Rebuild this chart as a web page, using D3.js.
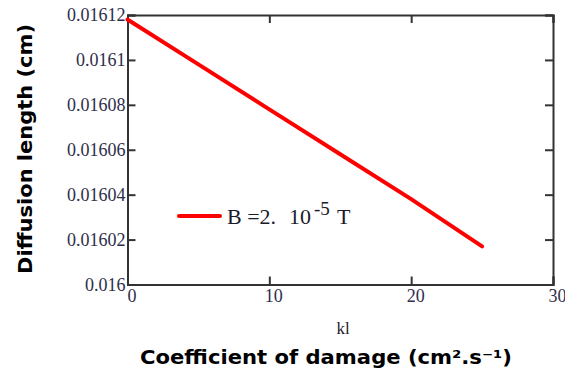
<!DOCTYPE html>
<html>
<head>
<meta charset="utf-8">
<script src="https://cdn.jsdelivr.net/npm/d3@7"></script>
<style>
  html, body { margin: 0; padding: 0; background: #fff; }
  svg { display: block; }
</style>
</head>
<body>
<svg id="chart" width="565" height="370"></svg>
<script>
// Damage coefficient kl (cm².s⁻¹) and diffusion length (cm)
const klValues = [0, 5, 10, 15, 20, 25];
const diffusionLength = [0.016118, 0.016098, 0.016078, 0.016058, 0.016038, 0.016017];
const xTicks = [0, 10, 20, 30];
const yTicks = [0.016, 0.01602, 0.01604, 0.01606, 0.01608, 0.0161, 0.01612];
const yTickLabels = ["0.016", "0.01602", "0.01604", "0.01606", "0.01608", "0.0161", "0.01612"];

const svg = d3.select("#chart");
const margin = { left: 127.5, right: 553, top: 15, bottom: 284.5 };

const x = d3.scaleLinear().domain([0, 30]).range([margin.left, margin.right]);
const y = d3.scaleLinear().domain([0.016, 0.01612]).range([margin.bottom, margin.top]);

const labelColor = "#2e2e4a";
const frameColor = "#333";
const serif = "'Liberation Serif', 'DejaVu Serif', serif";
const tickLen = 8;

// inward ticks on all four sides
const axisLeft = d3.axisLeft(y).tickValues(yTicks).tickSize(-tickLen).tickFormat((d, i) => yTickLabels[i]).tickPadding(2);
const axisRight = d3.axisRight(y).tickValues(yTicks).tickSize(-tickLen).tickFormat("");
const axisBottom = d3.axisBottom(x).tickValues(xTicks).tickSize(-tickLen).tickFormat(d3.format("d")).tickPadding(5);
const axisTop = d3.axisTop(x).tickValues(xTicks).tickSize(-tickLen).tickFormat("");

function styleAxis(g) {
  g.attr("font-family", null).attr("font-size", null);
  g.select(".domain").attr("stroke", frameColor).attr("stroke-width", 2);
  g.selectAll(".tick line").attr("stroke", frameColor).attr("stroke-width", 2);
  g.selectAll(".tick text")
    .attr("fill", labelColor)
    .style("font-family", serif)
    .style("font-size", "18px");
}

svg.append("g").attr("transform", `translate(${margin.left},0)`).call(axisLeft).call(styleAxis);
svg.append("g").attr("transform", `translate(${margin.right},0)`).call(axisRight).call(styleAxis);
svg.append("g").attr("transform", `translate(0,${margin.bottom})`).call(axisBottom).call(styleAxis)
  .selectAll(".tick text").attr("dx", 4);
svg.append("g").attr("transform", `translate(0,${margin.top})`).call(axisTop).call(styleAxis);

// data line
const line = d3.line().x((d, i) => x(klValues[i])).y(d => y(d));
svg.append("path")
  .datum(diffusionLength)
  .attr("d", line)
  .attr("fill", "none")
  .attr("stroke", "#ff0000")
  .attr("stroke-width", 4)
  .attr("stroke-linecap", "round");

// legend
const legendY = 216;
svg.append("line")
  .attr("x1", 179).attr("x2", 220)
  .attr("y1", legendY).attr("y2", legendY)
  .attr("stroke", "#ff0000").attr("stroke-width", 4).attr("stroke-linecap", "round");
const legendText = svg.append("text")
  .attr("y", legendY + 8)
  .attr("fill", "#1a1a2a")
  .style("font-family", serif)
  .style("font-size", "22px");
legendText.append("tspan").attr("x", 227).text("B =2.");
legendText.append("tspan").attr("x", 289).text("10");
legendText.append("tspan").attr("x", 314).attr("dy", -9).style("font-size", "19px").text("-5");
legendText.append("tspan").attr("x", 337).attr("dy", 9).text("T");

// variable name under the x axis
svg.append("text")
  .attr("x", 343).attr("y", 334)
  .attr("text-anchor", "middle")
  .attr("fill", "#1a1a2a")
  .style("font-family", serif)
  .style("font-size", "17px")
  .text("kl");

// axis titles
svg.append("text")
  .attr("transform", "translate(32,149) rotate(-90)")
  .attr("text-anchor", "middle")
  .attr("fill", "#000")
  .attr("textLength", 250)
  .attr("lengthAdjust", "spacingAndGlyphs")
  .style("font-family", "'DejaVu Sans', 'Liberation Sans', sans-serif")
  .style("font-weight", "bold")
  .style("font-size", "19px")
  .text("Diffusion length (cm)");

svg.append("text")
  .attr("x", 326).attr("y", 364)
  .attr("text-anchor", "middle")
  .attr("fill", "#000")
  .attr("textLength", 372)
  .attr("lengthAdjust", "spacingAndGlyphs")
  .style("font-family", "'DejaVu Sans', 'Liberation Sans', sans-serif")
  .style("font-weight", "bold")
  .style("font-size", "19px")
  .text("Coefficient of damage (cm².s⁻¹)");
</script>
</body>
</html>
